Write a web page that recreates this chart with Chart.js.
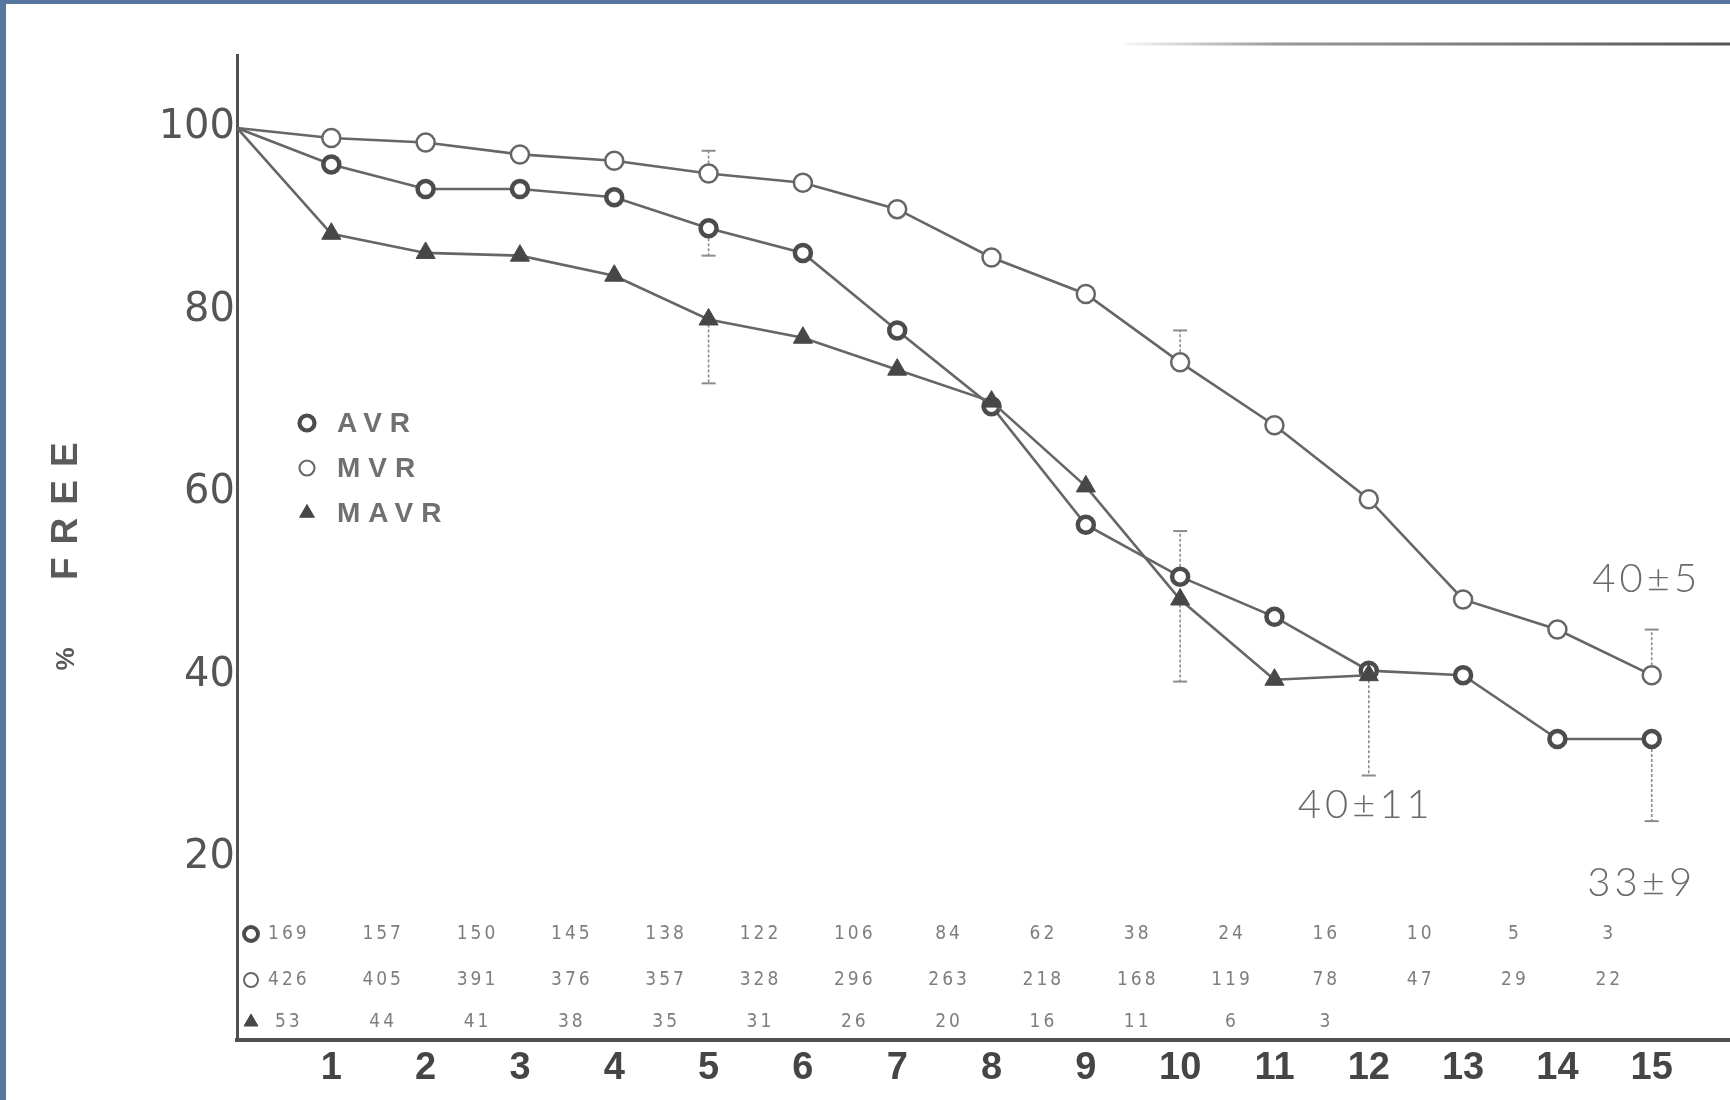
<!DOCTYPE html>
<html>
<head>
<meta charset="utf-8">
<script src="https://cdn.jsdelivr.net/npm/chart.js@4.4.1/dist/chart.umd.min.js"></script>
<style>
  html, body { margin: 0; padding: 0; background: #fff; overflow: hidden; }
  #wrap { position: relative; width: 1730px; height: 1100px; }
</style>
</head>
<body>
<div id="wrap"><canvas id="c" width="1730" height="1100"></canvas></div>
<script>
// Years after operation and percent of patients free of events
const years = [0, 1, 2, 3, 4, 5, 6, 7, 8, 9, 10, 11, 12, 13, 14, 15];
const yearLabels = ['1', '2', '3', '4', '5', '6', '7', '8', '9', '10', '11', '12', '13', '14', '15'];
const percentTicks = [20, 40, 60, 80, 100];

const avrFree  = [100, 96, 93.3, 93.3, 92.4, 89, 86.3, 77.8, 69.5, 56.5, 50.8, 46.4, 40.5, 40, 33, 33];
const mvrFree  = [100, 98.9, 98.4, 97.1, 96.4, 95, 94, 91.1, 85.8, 81.8, 74.3, 67.4, 59.3, 48.3, 45, 40];
const mavrFree = [100, 88.4, 86.3, 86, 83.8, 79, 77, 73.5, 70, 60.7, 48.3, 39.5, 40];

// Standard errors (positive: drawn above the point, negative: drawn below)
const avrErrYears  = [5, 10, 15];
const avrErr       = [-3, 5, -9];
const mvrErrYears  = [5, 10, 15];
const mvrErr       = [2.5, 3.5, 5];
const mavrErrYears = [5, 10, 12];
const mavrErr      = [-7, -9, -11];

// Patients at risk at each interval
const avrAtRisk  = [169, 157, 150, 145, 138, 122, 106, 84, 62, 38, 24, 16, 10, 5, 3];
const mvrAtRisk  = [426, 405, 391, 376, 357, 328, 296, 263, 218, 168, 119, 78, 47, 29, 22];
const mavrAtRisk = [53, 44, 41, 38, 35, 31, 26, 20, 16, 11, 6, 3];

const seriesNames = ['AVR', 'MVR', 'MAVR'];

const LINE = '#666666';

const styles = {
  AVR:  { pointStyle: 'circle',   radius: 8,  borderWidth: 4.5, fill: '#ffffff', stroke: '#4c4c4c' },
  MVR:  { pointStyle: 'circle',   radius: 9,  borderWidth: 2.5, fill: '#ffffff', stroke: '#666666' },
  MAVR: { pointStyle: 'triangle', radius: 11, borderWidth: 1,   fill: '#474747', stroke: '#474747' }
};

function toPoints(values) {
  return values.map((v, i) => ({ x: years[i], y: v }));
}

function makeDataset(name, values, order) {
  const s = styles[name];
  return {
    label: name,
    data: toPoints(values),
    order: order,
    borderColor: LINE,
    borderWidth: 2.6,
    pointStyle: s.pointStyle,
    pointRadius: ctx => (ctx.dataIndex === 0 ? 0 : s.radius),
    pointBorderWidth: s.borderWidth,
    pointBackgroundColor: s.fill,
    pointBorderColor: s.stroke,
    tension: 0
  };
}

function drawSymbol(ctx, name, x, y, r) {
  const s = styles[name];
  const bw = Math.max(1, s.borderWidth * r / s.radius);
  ctx.save();
  ctx.fillStyle = s.fill;
  ctx.strokeStyle = s.stroke;
  ctx.lineWidth = bw;
  Chart.helpers.drawPoint(ctx, { pointStyle: s.pointStyle, radius: r, rotation: 0, borderWidth: bw }, x, y);
  ctx.restore();
}

// Page frame, scan edge line
const framePlugin = {
  id: 'frame',
  beforeDraw(chart) {
    const ctx = chart.ctx;
    ctx.save();
    ctx.fillStyle = '#ffffff';
    ctx.fillRect(0, 0, chart.width, chart.height);
    ctx.fillStyle = '#57769e';
    ctx.fillRect(0, 0, 6, chart.height);
    ctx.fillRect(0, 0, chart.width, 4);
    const g = ctx.createLinearGradient(1125, 0, 1730, 0);
    g.addColorStop(0, 'rgba(110,110,110,0.05)');
    g.addColorStop(0.25, 'rgba(110,110,110,0.7)');
    g.addColorStop(1, 'rgba(85,85,85,1)');
    ctx.strokeStyle = g;
    ctx.lineWidth = 3;
    ctx.beginPath();
    ctx.moveTo(1125, 44);
    ctx.lineTo(1730, 44);
    ctx.stroke();
    ctx.restore();
  }
};

// Vertical error bars with small caps
const errorBarPlugin = {
  id: 'errorBars',
  beforeDatasetsDraw(chart) {
    const ctx = chart.ctx;
    const xs = chart.scales.x, ys = chart.scales.y;
    const sets = [
      [avrErrYears, avrErr, avrFree],
      [mvrErrYears, mvrErr, mvrFree],
      [mavrErrYears, mavrErr, mavrFree]
    ];
    ctx.save();
    ctx.strokeStyle = '#8c8c8c';
    sets.forEach(([yrs, errs, vals]) => {
      yrs.forEach((yr, i) => {
        const v = vals[years.indexOf(yr)];
        const px = xs.getPixelForValue(yr);
        const p0 = ys.getPixelForValue(v);
        const p1 = ys.getPixelForValue(v + errs[i]);
        ctx.lineWidth = 1.6;
        ctx.setLineDash([3, 2]);
        ctx.beginPath();
        ctx.moveTo(px, p0);
        ctx.lineTo(px, p1);
        ctx.stroke();
        ctx.setLineDash([]);
        ctx.lineWidth = 2;
        ctx.beginPath();
        ctx.moveTo(px - 7, p1);
        ctx.lineTo(px + 7, p1);
        ctx.stroke();
      });
    });
    ctx.restore();
  }
};

// Legend, at-risk table, axis title and value notes
const notesPlugin = {
  id: 'notes',
  afterDraw(chart) {
    const ctx = chart.ctx;
    const xs = chart.scales.x, ys = chart.scales.y;
    const area = chart.chartArea;
    ctx.save();

    // legend inside the plot
    ctx.font = 'bold 28px "Liberation Sans", Arial, sans-serif';
    ctx.letterSpacing = '8px';
    ctx.fillStyle = '#707070';
    ctx.textBaseline = 'middle';
    ctx.textAlign = 'left';
    seriesNames.forEach((name, i) => {
      const y = 423 + i * 45;
      drawSymbol(ctx, name, 307, y, name === 'MAVR' ? 8.5 : 7.5);
      ctx.fillText(name, 337, y + 1);
    });

    // at-risk table above the x axis
    const rows = [avrAtRisk, mvrAtRisk, mavrAtRisk];
    const rowOffsets = [106, 60, 18];
    ctx.font = '19px "DejaVu Sans Condensed", "Liberation Sans Narrow", sans-serif';
    ctx.letterSpacing = '3px';
    ctx.fillStyle = '#7e7e7e';
    ctx.textAlign = 'center';
    rows.forEach((row, r) => {
      const y = area.bottom - rowOffsets[r];
      drawSymbol(ctx, seriesNames[r], 251, y, seriesNames[r] === 'MAVR' ? 8 : 7);
      row.forEach((n, k) => {
        ctx.fillText(String(n), xs.getPixelForValue(k + 0.55), y);
      });
    });

    // rotated axis title
    ctx.save();
    ctx.translate(67, 553);
    ctx.rotate(-Math.PI / 2);
    ctx.fillStyle = '#5a5a5a';
    ctx.textAlign = 'left';
    ctx.font = 'bold 37px "Liberation Sans", Arial, sans-serif';
    ctx.letterSpacing = '13px';
    ctx.fillText('FREE', -27, 0);
    ctx.letterSpacing = '0px';
    ctx.textAlign = 'center';
    ctx.font = 'bold 26px "Liberation Sans", Arial, sans-serif';
    ctx.fillText('%', -106, 0);
    ctx.restore();

    // values with standard errors at the last points
    ctx.letterSpacing = '4px';
    ctx.font = '300 40px Lato, "Open Sans", sans-serif';
    ctx.fillStyle = '#6a6a6a';
    ctx.textAlign = 'center';
    const mvrLast = mvrFree[15], mvrSe = mvrErr[2];
    const mavrLast = mavrFree[12], mavrSe = mavrErr[2];
    const avrLast = avrFree[15], avrSe = avrErr[2];
    ctx.fillText(mvrLast + '\u00B1' + mvrSe,
      xs.getPixelForValue(15) - 5, ys.getPixelForValue(mvrLast + mvrSe) - 50);
    ctx.fillText(mavrLast + '\u00B1' + Math.abs(mavrSe),
      xs.getPixelForValue(12) - 3, ys.getPixelForValue(mavrLast + mavrSe) + 30);
    ctx.fillText(avrLast + '\u00B1' + Math.abs(avrSe),
      xs.getPixelForValue(15) - 10, ys.getPixelForValue(avrLast + avrSe) + 62);

    ctx.restore();
  }
};

new Chart(document.getElementById('c'), {
  type: 'line',
  data: {
    datasets: [
      makeDataset('MAVR', mavrFree, 0),
      makeDataset('AVR', avrFree, 1),
      makeDataset('MVR', mvrFree, 2)
    ]
  },
  options: {
    responsive: false,
    devicePixelRatio: 1,
    animation: false,
    clip: false,
    layout: { autoPadding: false, padding: { top: 55, left: 0, right: 0, bottom: 0 } },
    plugins: {
      legend: { display: false },
      tooltip: { enabled: false }
    },
    scales: {
      x: {
        type: 'linear',
        min: 0,
        max: 15.83,
        afterFit: s => { s.height = 60; s.paddingLeft = 0; s.paddingRight = 0; },
        afterBuildTicks: s => { s.ticks = yearLabels.map(l => ({ value: Number(l) })); },
        ticks: {
          callback: v => yearLabels[yearLabels.indexOf(String(v))],
          font: { family: '"Liberation Sans", Arial, sans-serif', size: 38, weight: 'bold' },
          color: '#454545',
          padding: 6,
          maxRotation: 0
        },
        grid: { display: false, drawTicks: false },
        border: { display: true, color: '#505050', width: 4 }
      },
      y: {
        min: 0,
        max: 108,
        afterFit: s => { s.width = 237; s.paddingTop = 0; s.paddingBottom = 0; },
        afterBuildTicks: s => { s.ticks = percentTicks.map(v => ({ value: v })); },
        ticks: {
          font: { family: '"DejaVu Sans", sans-serif', size: 40 },
          color: '#555555',
          padding: 2
        },
        grid: { display: false, drawTicks: false },
        border: { display: true, color: '#505050', width: 3 }
      }
    }
  },
  plugins: [framePlugin, errorBarPlugin, notesPlugin]
});
</script>
</body>
</html>
